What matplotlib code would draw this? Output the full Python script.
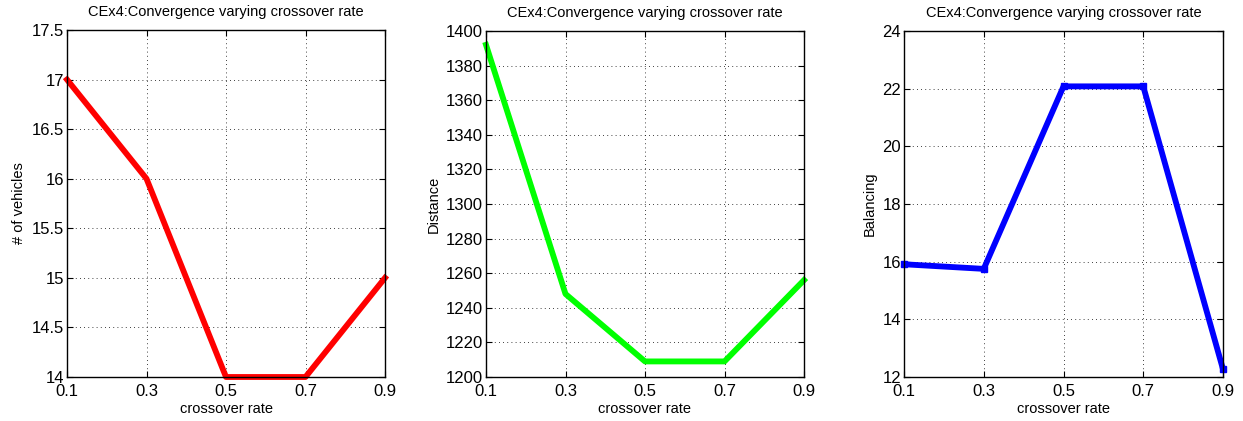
import matplotlib.pyplot as plt

plt.rcParams['font.family'] = ['Liberation Sans', 'DejaVu Sans']

# crossover rates and results for CEx4
rates = [0.1, 0.3, 0.5, 0.7, 0.9]
vehicles = [17, 16, 14, 14, 15]
distance = [1392, 1248, 1209, 1209, 1256]
balancing = [15.91, 15.75, 22.08, 22.08, 12.27]

title = "CEx4:Convergence varying crossover rate"

fig = plt.figure(figsize=(12.43, 4.21), dpi=100)
W, H = 1243, 421

# axes boxes in pixels (left, right, top, bottom)
boxes = [(67, 385, 30, 377), (486, 804, 31, 377), (904, 1223, 31, 377)]
axes = [fig.add_axes([l / W, 1 - b / H, (r - l) / W, (b - t) / H]) for l, r, t, b in boxes]

ax1, ax2, ax3 = axes
ax1.plot(rates, vehicles, color='#ff0000', lw=4.2, clip_on=False)
ax1.set_ylim(14, 17.5)
ax1.set_yticks([14, 14.5, 15, 15.5, 16, 16.5, 17, 17.5])
ax1.set_yticklabels(['14', '14.5', '15', '15.5', '16', '16.5', '17', '17.5'])
ax1.set_ylabel('# of vehicles')

ax2.plot(rates, distance, color='#00ff00', lw=4.2, clip_on=False)
ax2.set_ylim(1200, 1400)
ax2.set_yticks(range(1200, 1401, 20))
ax2.set_ylabel('Distance')

ax3.plot(rates, balancing, color='#0000ff', lw=4.2, marker='s', ms=5, clip_on=False)
ax3.set_ylim(12, 24)
ax3.set_yticks(range(12, 25, 2))
ax3.set_ylabel('Balancing')

for ax in axes:
    ax.set_xlim(0.1, 0.9)
    ax.set_xticks(rates)
    ax.set_xticklabels(['0.1', '0.3', '0.5', '0.7', '0.9'])
    ax.set_xlabel('crossover rate', fontsize=10.5, labelpad=2)
    ax.set_title(title, fontsize=10.5, pad=10)
    ax.yaxis.label.set_size(10.5)
    ax.grid(True, color='black', linestyle=(0, (1, 4)), linewidth=0.6)
    ax.tick_params(direction='in', length=4, labelsize=12, top=True, right=True)
    ax.tick_params(axis='x', pad=5)
    ax.tick_params(axis='y', pad=2)
    for s in ax.spines.values():
        s.set_linewidth(1.0)

fig.savefig('out.png', dpi=100)
